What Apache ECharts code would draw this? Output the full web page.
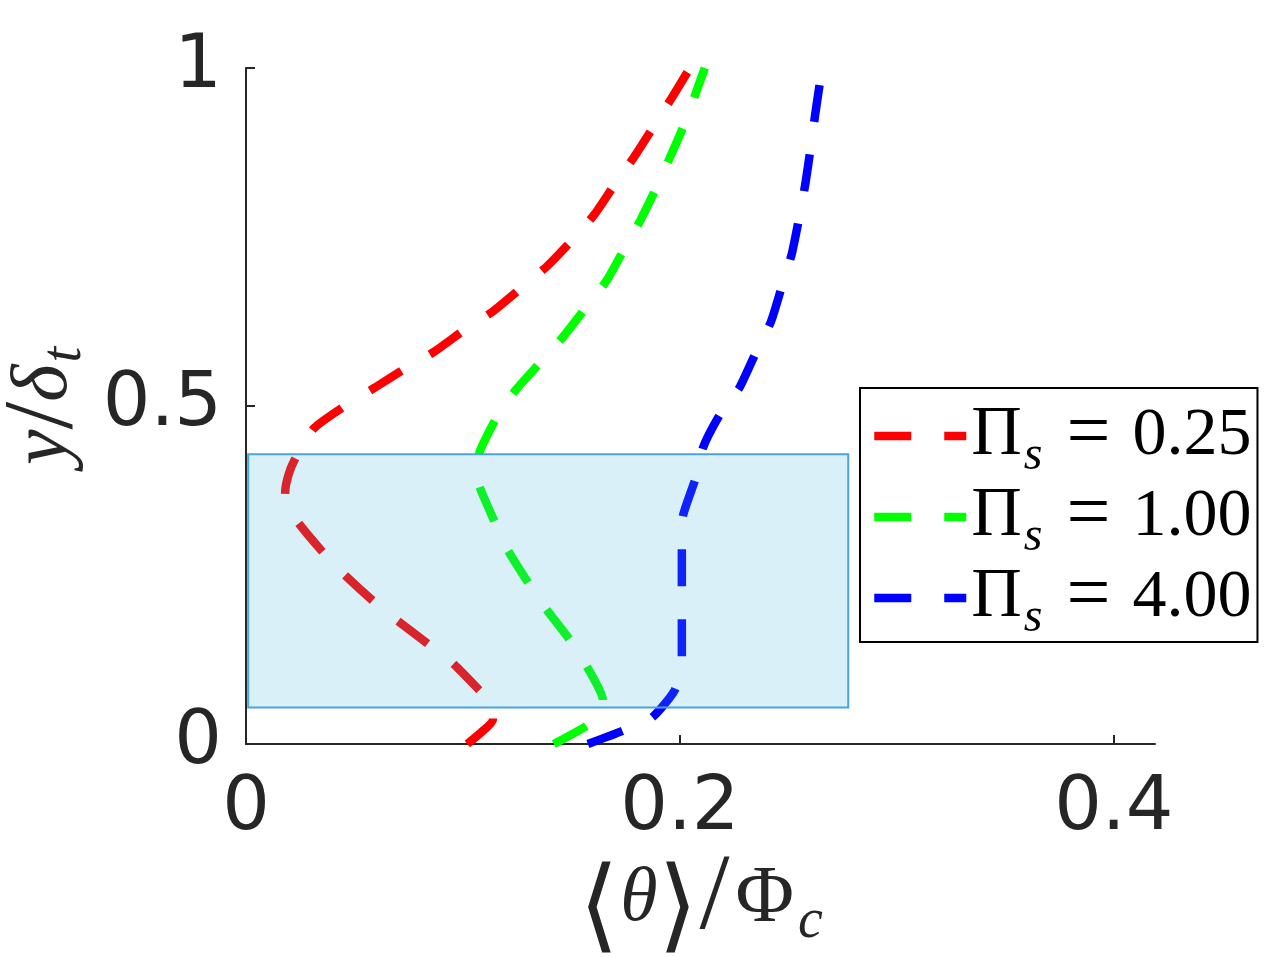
<!DOCTYPE html>
<html>
<head>
<meta charset="utf-8">
<script src="https://cdn.jsdelivr.net/npm/echarts@6/dist/echarts.min.js"></script>
<style>
html, body { margin: 0; padding: 0; background: #fff; }
#chart { width: 1270px; height: 957px; }
</style>
</head>
<body>
<div id="chart"></div>
<script>
// 曲线数据
var names = ['Π_s = 0.25', 'Π_s = 1.00', 'Π_s = 4.00']
var values = ['0.25', '1.00', '4.00']
var colors = ['#ff0000', '#00ff00', '#0000ff']

var redX = [0.102, 0.108, 0.1138, 0.1136, 0.1074, 0.0954, 0.0839, 0.0696, 0.0585, 0.0452, 0.0359, 0.0244, 0.0198, 0.0180, 0.0184, 0.0203, 0.0235, 0.0313, 0.0456, 0.0593, 0.0737, 0.0866, 0.1009, 0.1138, 0.1270, 0.1385, 0.1505, 0.1610, 0.1700, 0.1790, 0.1880, 0.1965, 0.2046]
var redY = [0, 0.016, 0.036, 0.058, 0.080, 0.119, 0.148, 0.183, 0.212, 0.251, 0.282, 0.326, 0.349, 0.368, 0.383, 0.405, 0.427, 0.467, 0.500, 0.527, 0.556, 0.580, 0.613, 0.640, 0.675, 0.706, 0.746, 0.785, 0.828, 0.869, 0.914, 0.957, 1.0]

var greenX = [0.1419, 0.1571, 0.1640, 0.1645, 0.1567, 0.1488, 0.1378, 0.1300, 0.1203, 0.1143, 0.1074, 0.1069, 0.1078, 0.1157, 0.1244, 0.1364, 0.1461, 0.1570, 0.1665, 0.1745, 0.1820, 0.1895, 0.1960, 0.2025, 0.2080, 0.2115]
var greenY = [0, 0.027, 0.048, 0.065, 0.117, 0.156, 0.202, 0.239, 0.289, 0.331, 0.383, 0.408, 0.433, 0.484, 0.524, 0.567, 0.602, 0.647, 0.687, 0.733, 0.776, 0.825, 0.872, 0.920, 0.969, 1.0]

var blueX = [0.1576, 0.1733, 0.1871, 0.1977, 0.2009, 0.2009, 0.2009, 0.2009, 0.2014, 0.2069, 0.2106, 0.2184, 0.2276, 0.2350, 0.2420, 0.2470, 0.2515, 0.2550, 0.2578, 0.2602, 0.2624, 0.2648]
var blueY = [0, 0.019, 0.039, 0.080, 0.128, 0.184, 0.233, 0.288, 0.337, 0.390, 0.438, 0.487, 0.528, 0.579, 0.625, 0.677, 0.724, 0.779, 0.828, 0.880, 0.932, 0.984]

// 阴影区域 [x0, y0, x1, y1]
var region = [0.001, 0.054, 0.2776, 0.4285]

var xTicks = [0, 0.2, 0.4]
var yTicks = [0, 0.5, 1]

function pairs(xs, ys) {
  return xs.map(function (x, i) { return [x, ys[i]] })
}

var curves = [pairs(redX, redY), pairs(greenX, greenY), pairs(blueX, blueY)]

var chart = echarts.init(document.getElementById('chart'), null, { renderer: 'canvas' })

var axisColor = '#262626'
var serif = '"Liberation Serif", "DejaVu Serif", serif'

var series = curves.map(function (data, i) {
  return {
    name: names[i],
    type: 'line',
    data: data,
    symbol: 'none',
    showSymbol: false,
    smooth: 0.2,
    z: 2,
    lineStyle: {
      color: colors[i],
      width: 8.5,
      type: [37, 33],
      cap: 'butt'
    },
    itemStyle: { color: colors[i] }
  }
})

// 半透明矩形覆盖在曲线上面
series.push({
  type: 'custom',
  z: 10,
  silent: true,
  encode: { x: [0, 2], y: [1, 3] },
  data: [region],
  renderItem: function (params, api) {
    var p0 = api.coord([api.value(0), api.value(3)])
    var p1 = api.coord([api.value(2), api.value(1)])
    return {
      type: 'rect',
      shape: { x: p0[0], y: p0[1], width: p1[0] - p0[0], height: p1[1] - p0[1] },
      style: { fill: 'rgba(70,180,220,0.2)', stroke: '#4aa3e3', lineWidth: 2 }
    }
  }
})

var option = {
  animation: false,
  backgroundColor: '#ffffff',
  grid: {
    left: 246,
    top: 68,
    right: 115,
    bottom: 213,
    containLabel: false,
    outerBoundsMode: 'none'
  },
  legend: {
    data: names,
    orient: 'vertical',
    left: 860,
    top: 388,
    padding: [4, 6, 0, 10],
    itemGap: -7,
    itemWidth: 92,
    itemHeight: 20,
    borderColor: '#000000',
    borderWidth: 2,
    backgroundColor: '#ffffff',
    itemStyle: { color: 'rgba(0,0,0,0)', borderWidth: 0, opacity: 0 },
    lineStyle: { width: 8.5, type: 'inherit' },
    selectedMode: false,
    formatter: function (name) {
      var v = values[names.indexOf(name)]
      return '{p|Π}{s|s}{e|=}{v|' + v + '}'
    },
    textStyle: {
      color: '#000000',
      fontFamily: serif,
      rich: {
        p: { fontFamily: serif, fontSize: 70, lineHeight: 60, color: '#000' },
        s: { fontFamily: serif, fontSize: 48, fontStyle: 'italic', lineHeight: 24, padding: [40, 0, 0, 2], color: '#000' },
        e: { fontFamily: serif, fontSize: 78, lineHeight: 60, padding: [0, 22, 0, 24], color: '#000' },
        v: { fontFamily: serif, fontSize: 68, lineHeight: 60, color: '#000' }
      }
    }
  },
  xAxis: {
    type: 'value',
    min: 0,
    max: 0.419,
    interval: 0.2,
    name: '{a|⟨}{i|θ}{a|⟩}{b|/}{p|Φ}{c|c}',
    nameLocation: 'middle',
    nameGap: 111,
    nameMoveOverlap: false,
    nameTextStyle: {
      rich: {
        a: { fontFamily: '"Noto Sans CJK SC", "DejaVu Sans"', fontWeight: 300, fontSize: 102, lineHeight: 90, color: '#262626', padding: [0, 1, 0, 1] },
        b: { fontFamily: serif, fontSize: 108, lineHeight: 90, color: '#262626', padding: [0, 2, 0, 0] },
        i: { fontFamily: serif, fontSize: 76, fontStyle: 'italic', lineHeight: 90, color: '#262626' },
        p: { fontFamily: serif, fontSize: 80, lineHeight: 90, color: '#262626', padding: [0, 0, 0, 4] },
        c: { fontFamily: serif, fontSize: 56, fontStyle: 'italic', lineHeight: 30, padding: [44, 0, 0, 4], color: '#262626' }
      }
    },
    axisLine: { show: true, onZero: false, lineStyle: { color: axisColor, width: 2 } },
    axisTick: { show: true, inside: true, length: 9, customValues: xTicks, lineStyle: { color: axisColor, width: 2 } },
    axisLabel: {
      customValues: xTicks,
      margin: 28,
      color: axisColor,
      fontFamily: '"DejaVu Sans", sans-serif',
      fontSize: 75
    },
    splitLine: { show: false }
  },
  yAxis: {
    type: 'value',
    min: 0,
    max: 1,
    interval: 0.5,
    name: '{i|y}{a|/}{i|δ}{t|t}',
    nameLocation: 'middle',
    nameGap: 156,
    nameRotate: 90,
    nameMoveOverlap: false,
    nameTextStyle: {
      rich: {
        a: { fontFamily: serif, fontSize: 100, lineHeight: 90, color: '#262626' },
        i: { fontFamily: serif, fontSize: 80, fontStyle: 'italic', lineHeight: 90, color: '#262626' },
        t: { fontFamily: serif, fontSize: 56, fontStyle: 'italic', lineHeight: 30, padding: [40, 0, 0, 2], color: '#262626' }
      }
    },
    axisLine: { show: true, onZero: false, lineStyle: { color: axisColor, width: 2 } },
    axisTick: { show: true, inside: true, length: 9, customValues: yTicks, lineStyle: { color: axisColor, width: 2 } },
    axisLabel: {
      customValues: yTicks,
      margin: 24,
      color: axisColor,
      fontFamily: '"DejaVu Sans", sans-serif',
      fontSize: 75
    },
    splitLine: { show: false }
  },
  series: series
}

chart.setOption(option)
</script>
</body>
</html>
